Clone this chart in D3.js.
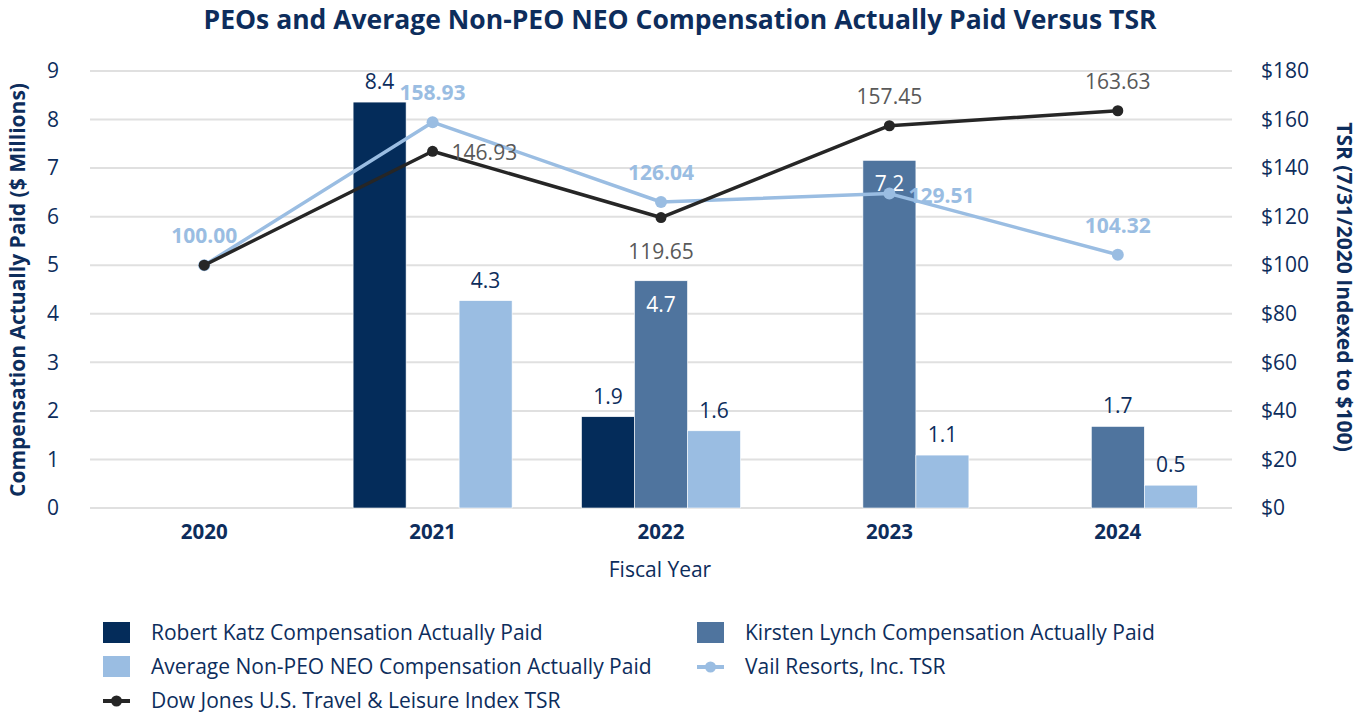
<!doctype html>
<html>
  <head>
    <title>PEOs and Average Non-PEO NEO Compensation Actually Paid Versus TSR</title>
    <style>
      * { margin: 0; padding: 0; box-sizing: border-box; }
      body { background: #fff; font-family: "Open Sans", "Noto Sans", sans-serif; }
      svg text { font-family: "Open Sans", "Noto Sans", sans-serif; }
    </style>
    <script src="https://d3js.org/d3.v7.min.js"></script>
  </head>
  <body>
    <div id="chart"></div>
    <script>
    // data
    const years = ["2020", "2021", "2022", "2023", "2024"];
    const katzPaid  = [null, 8.36, 1.88, null, null];
    const lynchPaid = [null, null, 4.68, 7.16, 1.68];
    const avgPaid   = [null, 4.27, 1.59, 1.09, 0.47];
    const vailTsr = [100.00, 158.93, 126.04, 129.51, 104.32];
    const dowTsr  = [100.00, 146.93, 119.65, 157.45, 163.63];
    const leftTicks = [0, 1, 2, 3, 4, 5, 6, 7, 8, 9];
    const rightTicks = [0, 20, 40, 60, 80, 100, 120, 140, 160, 180];
    // where each data label sits
    const lynchLabelInside = [false, false, true, true, false];
    const vailLabelPos = ["above", "above", "above", "right", "above"];
    const dowLabelPos  = [null, "right", "below", "above", "above"];

    const navy = "#0d2d5c";
    const fs = "21px";
    const colors = { katz: "#042c5a", lynch: "#4f749e", avg: "#9abde2", vail: "#9abde2", dow: "#262626" };

    const W = 1367, H = 714;
    const svg = d3.select("#chart").append("svg").attr("width", W).attr("height", H);

    const x = d3.scaleBand().domain(years).range([90, 1232]);
    const sub = d3.scaleBand().domain(["katz", "lynch", "avg"]).range([-79.5, 79.5]);
    const y = d3.scaleLinear().domain([0, 9]).range([508, 71]);
    const y2 = d3.scaleLinear().domain([0, 180]).range([508, 71]);
    const cx = d => x(d) + x.bandwidth() / 2;

    // title
    svg.append("text")
      .attr("x", 680).attr("y", 29)
      .attr("text-anchor", "middle")
      .style("font-size", "26.5px").style("font-weight", "bold")
      .style("fill", navy)
      .text("PEOs and Average Non-PEO NEO Compensation Actually Paid Versus TSR");

    // gridlines
    svg.append("g").selectAll("line").data(leftTicks).join("line")
      .attr("x1", 90).attr("x2", 1232)
      .attr("y1", d => y(d)).attr("y2", d => y(d))
      .style("stroke", "#e0e0e0").style("stroke-width", 2);

    // left axis
    const la = svg.append("g").attr("transform", "translate(59,0)")
      .call(d3.axisLeft(y).tickValues(leftTicks).tickSize(0).tickPadding(0));
    la.select(".domain").remove();
    la.selectAll("text").style("font-size", fs).style("fill", navy);

    // right axis
    const ra = svg.append("g").attr("transform", "translate(1261,0)")
      .call(d3.axisRight(y2).tickValues(rightTicks).tickSize(0).tickPadding(0).tickFormat(d => "$" + d));
    ra.select(".domain").remove();
    ra.selectAll("text").style("font-size", fs).style("fill", navy);

    // x axis labels
    const xa = svg.append("g").attr("transform", "translate(0,524)")
      .call(d3.axisBottom(x).tickSize(0).tickPadding(0));
    xa.select(".domain").remove();
    xa.selectAll("text").style("font-size", "20.5px").style("font-weight", "bold").style("fill", navy);

    svg.append("text").attr("x", 660).attr("y", 577).attr("text-anchor", "middle")
      .style("font-size", fs).style("fill", navy).text("Fiscal Year");

    svg.append("text").attr("transform", "translate(25,290) rotate(-90)")
      .attr("text-anchor", "middle")
      .style("font-size", fs).style("font-weight", "bold").style("fill", navy)
      .text("Compensation Actually Paid ($ Millions)");

    svg.append("text").attr("transform", "translate(1337,287) rotate(90)")
      .attr("text-anchor", "middle")
      .style("font-size", fs).style("font-weight", "bold").style("fill", navy)
      .text("TSR (7/31/2020 Indexed to $100)");

    // bars
    const barSeries = [
      { key: "katz", vals: katzPaid },
      { key: "lynch", vals: lynchPaid },
      { key: "avg", vals: avgPaid }
    ];
    barSeries.forEach(s => {
      const pts = years.map((yr, i) => ({ yr, v: s.vals[i], i })).filter(d => d.v != null);
      svg.append("g").selectAll("rect").data(pts).join("rect")
        .attr("x", d => cx(d.yr) + sub(s.key))
        .attr("y", d => y(d.v))
        .attr("width", sub.bandwidth())
        .attr("height", d => y(0) - y(d.v))
        .style("fill", colors[s.key])
        .style("stroke", "#fff").style("stroke-width", 0.6);
      svg.append("g").selectAll("text").data(pts).join("text")
        .attr("x", d => cx(d.yr) + sub(s.key) + sub.bandwidth() / 2)
        .attr("y", d => (s.key === "lynch" && lynchLabelInside[d.i]) ? y(d.v) + 31 : y(d.v) - 13)
        .attr("text-anchor", "middle")
        .style("font-size", fs)
        .style("fill", d => (s.key === "lynch" && lynchLabelInside[d.i]) ? "#fff" : navy)
        .text(d => d.v.toFixed(1));
    });

    // TSR lines
    function drawLine(vals, color, r, pos, bold, labelColor) {
      const pts = years.map((yr, i) => ({ yr, v: vals[i], i }));
      svg.append("path").datum(pts)
        .attr("d", d3.line().x(d => cx(d.yr)).y(d => y2(d.v)))
        .style("fill", "none").style("stroke", color).style("stroke-width", 3.5)
        .style("stroke-linejoin", "round");
      svg.append("g").selectAll("circle").data(pts).join("circle")
        .attr("cx", d => cx(d.yr)).attr("cy", d => y2(d.v)).attr("r", r)
        .style("fill", color);
      svg.append("g").selectAll("text").data(pts.filter(d => pos[d.i])).join("text")
        .attr("x", d => pos[d.i] === "right" ? cx(d.yr) + 19 : cx(d.yr))
        .attr("y", d => {
          const p = pos[d.i];
          if (p === "above") return y2(d.v) - 22;
          if (p === "below") return y2(d.v) + 41;
          return y2(d.v) + 9;
        })
        .attr("text-anchor", d => pos[d.i] === "right" ? "start" : "middle")
        .style("font-size", fs)
        .style("font-weight", bold ? "bold" : "normal")
        .style("fill", labelColor)
        .text(d => d.v.toFixed(2));
    }
    drawLine(vailTsr, colors.vail, 6, vailLabelPos, true, colors.vail);
    drawLine(dowTsr, colors.dow, 5.5, dowLabelPos, false, "#595959");

    // legend
    const legend = [
      { name: "Robert Katz Compensation Actually Paid", type: "bar", color: colors.katz, col: 0, row: 0 },
      { name: "Kirsten Lynch Compensation Actually Paid", type: "bar", color: colors.lynch, col: 1, row: 0 },
      { name: "Average Non-PEO NEO Compensation Actually Paid", type: "bar", color: colors.avg, col: 0, row: 1 },
      { name: "Vail Resorts, Inc. TSR", type: "line", color: colors.vail, col: 1, row: 1 },
      { name: "Dow Jones U.S. Travel & Leisure Index TSR", type: "line", color: colors.dow, col: 0, row: 2 }
    ];
    const lg = svg.append("g").selectAll("g").data(legend).join("g")
      .attr("transform", d => "translate(" + (d.col ? 697 : 103) + "," + (632 + d.row * 34) + ")");
    lg.filter(d => d.type === "bar").append("rect")
      .attr("x", 0).attr("y", -10).attr("width", 27).attr("height", 21)
      .style("fill", d => d.color);
    lg.filter(d => d.type === "line").append("line")
      .attr("x1", 0).attr("x2", 27).attr("y1", 1).attr("y2", 1)
      .style("stroke", d => d.color).style("stroke-width", 4);
    lg.filter(d => d.type === "line").append("circle")
      .attr("cx", 13.5).attr("cy", 1).attr("r", 5.5)
      .style("fill", d => d.color);
    lg.append("text").attr("x", 48).attr("y", 8)
      .style("font-size", fs).style("fill", navy)
      .text(d => d.name);
    </script>
  </body>
</html>
